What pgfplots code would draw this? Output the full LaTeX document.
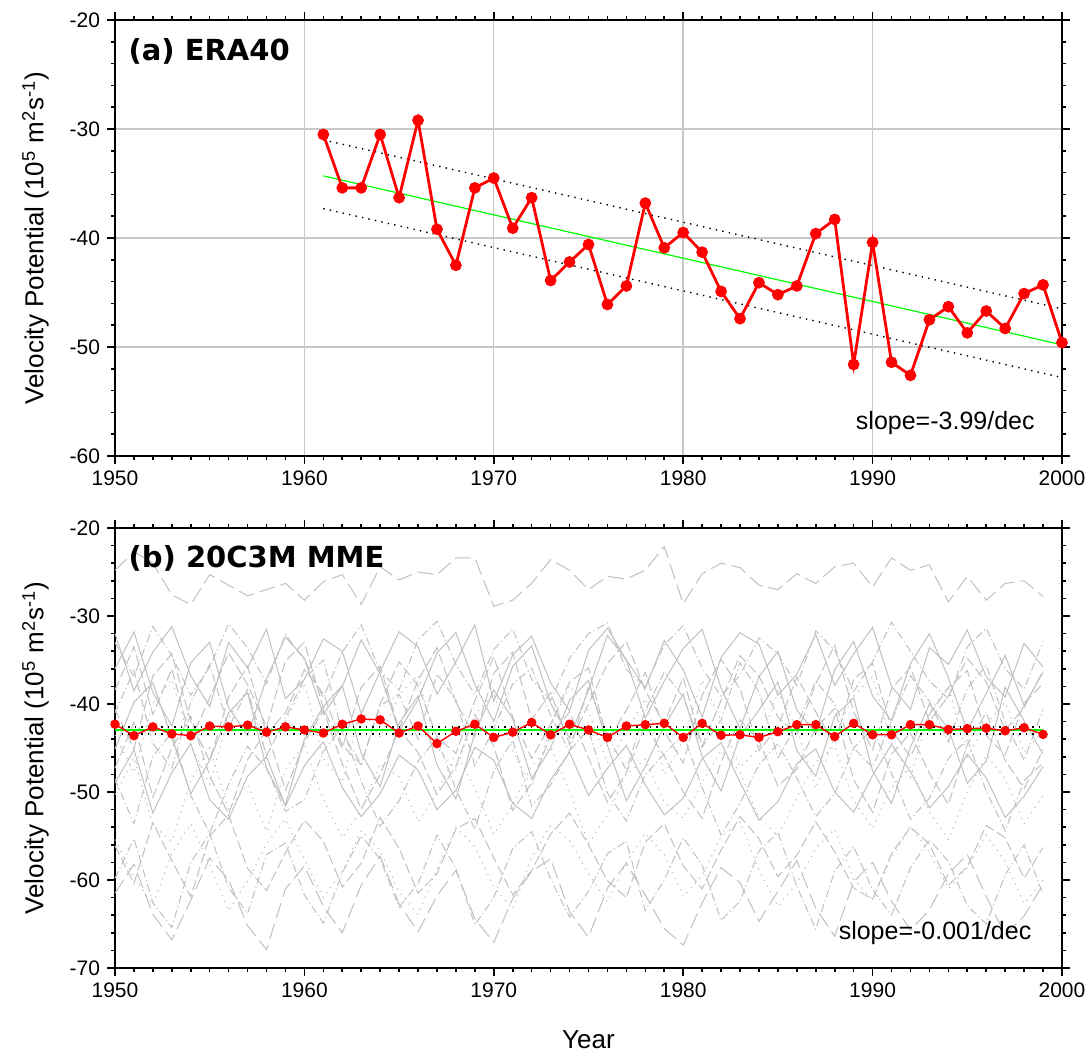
\documentclass[border=0pt]{standalone}
\usepackage{fontspec}
\setmainfont{Liberation Sans}
\newfontfamily\titlefont{DejaVu Sans}
\usepackage{pgfplots}
\pgfplotsset{compat=1.18}

\definecolor{gridgray}{RGB}{200,200,200}
\definecolor{mgray}{RGB}{192,192,192}
\definecolor{lgreen}{RGB}{0,255,0}

\pgfplotsset{
  panel/.style={
    scale only axis, width=473.5pt,
    xmin=1950, xmax=2000,
    xtick={1950,1960,...,2000},
    xticklabels={1950,1960,1970,1980,1990,2000},
    minor x tick num=9, minor y tick num=4,
    tick align=outside,
    major tick length=4pt, minor tick length=2pt,
    tick style={black, line width=0.8pt},
    axis line style={line width=1.4pt},
    tick label style={font=\fontsize{10.5}{12}\selectfont},
    ylabel={Velocity Potential (10\textsuperscript{5} m\textsuperscript{2}s\textsuperscript{-1})},
    ylabel style={font=\fontsize{13}{15}\selectfont,
      at={(axis description cs:-0.084,0.5)}, anchor=center},
    clip=false,
  },
  gsolid/.style={mgray, line width=0.5pt, solid},
  gdash/.style={mgray, line width=0.5pt, dash pattern=on 5pt off 2pt},
  glong/.style={mgray, line width=0.5pt, dash pattern=on 8pt off 3pt},
  gdot/.style={mgray, line width=0.6pt, dash pattern=on 0.6pt off 2.6pt},
  gdd/.style={mgray, line width=0.5pt, dash pattern=on 4pt off 1.5pt on 0.6pt off 1.5pt},
  conf/.style={black, line width=0.7pt, dash pattern=on 0.7pt off 2.6pt},
}

% one model series, one value per year from 1950
\newcommand{\model}[2]{\addplot[#1] table[header=false, x expr=\coordindex+1950, y index=0, row sep=\\]{#2};}

\begin{document}
\begin{tikzpicture}

% ---------------- (a) ERA40 ----------------
\begin{axis}[panel, at={(0,0)}, anchor=north west, height=218pt,
  ymin=-60, ymax=-20,
  ytick={-60,-50,...,-20}, yticklabels={-60,-50,-40,-30,-20},
  grid=major, grid style={gridgray, line width=0.7pt}]

\addplot[conf] coordinates {(1961,-31.0) (2000,-46.5)};
\addplot[conf] coordinates {(1961,-37.3) (2000,-52.8)};
\addplot[lgreen, line width=0.6pt] coordinates {(1961,-34.3) (2000,-49.8)};

\addplot[red, line width=1.4pt, mark=*, mark size=2.2pt] coordinates {
  (1961,-30.5) (1962,-35.4) (1963,-35.4) (1964,-30.5) (1965,-36.3)
  (1966,-29.2) (1967,-39.2) (1968,-42.5) (1969,-35.4) (1970,-34.5)
  (1971,-39.1) (1972,-36.3) (1973,-43.9) (1974,-42.2) (1975,-40.6)
  (1976,-46.1) (1977,-44.4) (1978,-36.8) (1979,-40.9) (1980,-39.5)
  (1981,-41.3) (1982,-44.9) (1983,-47.4) (1984,-44.1) (1985,-45.2)
  (1986,-44.4) (1987,-39.6) (1988,-38.3) (1989,-51.6) (1990,-40.4)
  (1991,-51.4) (1992,-52.6) (1993,-47.5) (1994,-46.3) (1995,-48.7)
  (1996,-46.7) (1997,-48.3) (1998,-45.1) (1999,-44.3) (2000,-49.6)};

\node[anchor=west, inner sep=0pt, font=\titlefont\bfseries\fontsize{14.5}{16}\selectfont]
  at (rel axis cs:0.014,0.927) {(a) ERA40};
\node[anchor=east, inner sep=0pt, font=\fontsize{12.5}{14}\selectfont]
  at (rel axis cs:0.9715,0.076) {slope=-3.99/dec};
\end{axis}

% ---------------- (b) 20C3M MME ----------------
\begin{axis}[panel, at={(0,-254pt)}, anchor=north west, height=220pt,
  ymin=-70, ymax=-20,
  ytick={-70,-60,...,-20}, yticklabels={-70,-60,-50,-40,-30,-20},
  xlabel={Year},
  xlabel style={font=\fontsize{13}{15}\selectfont,
    at={(axis description cs:0.5,0)}, anchor=center, yshift=-36pt}]

\model{glong}{-24.8\\-22.7\\-24.0\\-27.6\\-28.7\\-25.3\\-26.5\\-27.7\\-27.0\\-26.3\\
-28.2\\-26.1\\-25.3\\-28.7\\-24.4\\-25.9\\-25.0\\-25.3\\-23.4\\-23.4\\
-28.9\\-28.2\\-26.3\\-23.6\\-24.8\\-27.0\\-25.5\\-25.8\\-24.8\\-22.1\\
-28.6\\-25.2\\-24.0\\-24.5\\-26.5\\-27.0\\-25.2\\-26.3\\-24.4\\-24.0\\
-26.7\\-23.4\\-24.8\\-24.2\\-28.4\\-25.5\\-28.2\\-26.3\\-26.0\\-27.8\\}

\model{gsolid}{-32.0\\-38.5\\-34.1\\-31.2\\-36.8\\-40.3\\-33.0\\-35.9\\-31.5\\-39.4\\
-37.2\\-32.6\\-34.0\\-41.1\\-36.3\\-31.8\\-33.5\\-38.9\\-35.2\\-31.0\\
-39.7\\-34.4\\-32.3\\-37.6\\-40.8\\-33.9\\-31.4\\-35.0\\-38.2\\-32.8\\
-36.1\\-41.5\\-34.7\\-31.9\\-33.2\\-39.0\\-36.6\\-32.1\\-37.9\\-34.3\\
-31.3\\-38.0\\-40.6\\-33.6\\-35.5\\-31.6\\-36.9\\-39.2\\-33.1\\-35.8\\}

\model{gdash}{-38.4\\-33.5\\-41.2\\-36.0\\-44.1\\-39.3\\-34.2\\-37.8\\-42.6\\-35.1\\
-33.0\\-40.5\\-45.0\\-38.1\\-35.7\\-42.9\\-37.3\\-33.6\\-39.8\\-43.7\\
-36.5\\-34.1\\-41.8\\-38.7\\-44.6\\-40.0\\-35.4\\-32.9\\-38.5\\-42.2\\
-37.0\\-44.8\\-39.6\\-34.5\\-36.8\\-41.5\\-43.4\\-37.7\\-33.3\\-40.9\\
-45.2\\-38.3\\-35.8\\-42.0\\-39.1\\-34.8\\-37.5\\-43.0\\-40.4\\-36.2\\}

\model{gdd}{-41.0\\-36.2\\-44.5\\-47.3\\-39.8\\-35.5\\-42.7\\-38.4\\-45.9\\-41.6\\
-37.1\\-35.0\\-43.3\\-46.8\\-40.2\\-38.9\\-44.0\\-36.6\\-39.5\\-47.0\\
-42.8\\-37.7\\-35.9\\-41.3\\-45.4\\-38.0\\-43.6\\-47.5\\-40.7\\-36.4\\
-39.2\\-44.9\\-41.8\\-35.3\\-38.6\\-46.1\\-42.4\\-37.4\\-40.0\\-45.0\\
-47.2\\-41.9\\-36.8\\-39.7\\-44.3\\-38.2\\-35.6\\-42.1\\-46.4\\-40.6\\}

\model{gdot}{-43.5\\-47.8\\-39.9\\-37.2\\-44.6\\-49.1\\-41.5\\-38.3\\-45.8\\-42.0\\
-37.6\\-46.2\\-48.9\\-40.4\\-43.8\\-39.0\\-36.7\\-44.9\\-47.5\\-41.2\\
-38.8\\-45.3\\-49.4\\-42.6\\-37.9\\-40.8\\-46.7\\-43.2\\-39.4\\-48.0\\
-44.1\\-37.3\\-41.9\\-47.2\\-45.0\\-38.6\\-42.8\\-49.6\\-43.6\\-39.1\\
-36.9\\-44.4\\-48.3\\-41.0\\-38.0\\-46.0\\-42.3\\-39.8\\-45.5\\-43.0\\}

\model{gsolid}{-45.1\\-39.8\\-37.6\\-43.9\\-50.2\\-46.4\\-41.0\\-38.7\\-47.3\\-51.5\\
-44.0\\-40.3\\-37.9\\-45.6\\-49.4\\-42.2\\-39.1\\-46.9\\-50.8\\-43.3\\
-38.4\\-41.7\\-48.5\\-45.0\\-39.6\\-37.3\\-44.7\\-51.0\\-47.1\\-42.5\\
-38.9\\-46.0\\-49.9\\-43.6\\-40.7\\-37.5\\-45.3\\-48.2\\-41.4\\-39.3\\
-47.6\\-51.3\\-44.9\\-40.0\\-42.8\\-49.0\\-46.5\\-38.1\\-41.9\\-45.7\\}

\model{gdash}{-47.3\\-42.1\\-50.6\\-45.0\\-41.4\\-48.2\\-52.5\\-46.3\\-43.0\\-49.8\\
-44.4\\-40.7\\-46.8\\-51.9\\-48.0\\-42.9\\-45.5\\-50.3\\-47.1\\-41.2\\
-44.8\\-52.1\\-49.0\\-43.6\\-40.9\\-46.1\\-51.2\\-47.8\\-42.4\\-45.9\\
-50.0\\-53.0\\-46.6\\-41.8\\-44.2\\-49.3\\-47.4\\-42.7\\-40.5\\-48.6\\
-52.3\\-45.7\\-43.3\\-47.9\\-51.4\\-44.6\\-41.0\\-46.4\\-49.6\\-45.2\\}

\model{gdd}{-48.5\\-53.6\\-46.0\\-43.2\\-50.4\\-54.7\\-49.1\\-44.8\\-47.3\\-52.2\\
-50.9\\-45.4\\-42.6\\-48.8\\-53.9\\-51.0\\-46.5\\-43.9\\-49.7\\-54.2\\
-47.6\\-44.1\\-51.6\\-49.2\\-45.3\\-42.9\\-50.1\\-53.3\\-48.0\\-45.7\\
-43.4\\-49.5\\-54.9\\-51.3\\-46.9\\-44.5\\-48.4\\-52.8\\-50.2\\-45.0\\
-42.8\\-47.9\\-53.1\\-50.7\\-46.2\\-44.0\\-49.9\\-54.4\\-48.7\\-46.7\\}

\model{gdot}{-50.3\\-46.1\\-53.8\\-55.6\\-48.7\\-45.0\\-51.9\\-49.2\\-54.5\\-47.4\\
-44.6\\-50.8\\-55.2\\-52.0\\-46.8\\-48.3\\-53.4\\-50.1\\-45.5\\-49.6\\
-54.8\\-51.5\\-47.0\\-44.9\\-49.9\\-55.9\\-52.6\\-48.0\\-46.3\\-51.2\\
-53.0\\-49.0\\-45.3\\-47.7\\-52.9\\-55.0\\-50.6\\-46.6\\-44.8\\-51.0\\
-54.1\\-49.5\\-47.1\\-52.3\\-55.4\\-50.0\\-45.8\\-48.5\\-53.6\\-50.4\\}

\model{gsolid}{-49.0\\-45.2\\-52.4\\-47.8\\-44.5\\-50.9\\-53.1\\-48.2\\-46.0\\-51.6\\
-47.0\\-44.3\\-49.5\\-52.8\\-50.2\\-45.8\\-47.5\\-52.0\\-49.8\\-44.9\\
-46.4\\-51.3\\-53.0\\-48.6\\-45.5\\-50.4\\-47.3\\-44.7\\-49.2\\-52.6\\
-50.7\\-46.2\\-44.4\\-48.9\\-53.2\\-51.1\\-46.8\\-45.1\\-50.0\\-52.3\\
-48.1\\-44.6\\-47.7\\-51.8\\-49.4\\-45.7\\-48.4\\-52.9\\-50.5\\-47.1\\}

\model{gsolid}{-36.0\\-31.8\\-38.7\\-42.5\\-35.3\\-33.0\\-40.4\\-43.6\\-37.1\\-32.4\\
-34.8\\-41.2\\-38.0\\-32.7\\-36.6\\-43.1\\-39.5\\-34.2\\-31.9\\-37.8\\
-42.0\\-35.7\\-33.4\\-39.9\\-43.9\\-38.4\\-32.2\\-35.0\\-41.6\\-37.4\\
-33.7\\-31.5\\-38.2\\-42.8\\-36.9\\-34.0\\-40.7\\-43.3\\-36.1\\-32.9\\
-39.1\\-41.9\\-35.4\\-32.0\\-37.0\\-43.0\\-38.8\\-34.5\\-40.2\\-36.4\\}

\model{gdd}{-33.0\\-36.9\\-31.2\\-34.5\\-39.0\\-35.8\\-30.9\\-33.6\\-37.7\\-32.1\\
-35.0\\-39.3\\-34.1\\-31.0\\-36.3\\-38.4\\-32.7\\-30.6\\-35.5\\-38.9\\
-33.8\\-31.5\\-37.2\\-39.6\\-34.8\\-32.0\\-30.8\\-36.1\\-38.0\\-33.3\\
-31.1\\-35.9\\-39.1\\-36.7\\-32.5\\-34.3\\-37.9\\-31.7\\-33.9\\-38.6\\
-35.2\\-30.7\\-34.0\\-37.4\\-39.4\\-33.5\\-31.4\\-36.0\\-38.3\\-32.9\\}

\model{gdash}{-40.6\\-45.1\\-36.8\\-34.3\\-42.0\\-46.5\\-39.2\\-35.7\\-43.4\\-41.0\\
-36.1\\-38.8\\-44.7\\-46.9\\-40.0\\-35.2\\-37.9\\-43.8\\-45.6\\-39.6\\
-34.6\\-41.5\\-46.2\\-42.3\\-37.5\\-35.9\\-44.2\\-40.7\\-36.4\\-43.1\\
-46.7\\-39.0\\-34.9\\-38.3\\-45.3\\-42.6\\-36.9\\-40.9\\-44.5\\-37.2\\
-35.4\\-42.9\\-46.0\\-41.2\\-38.1\\-36.2\\-43.6\\-45.8\\-39.9\\-37.7\\}

\model{gdash}{-56.1\\-60.4\\-53.5\\-57.8\\-61.9\\-55.0\\-52.6\\-58.7\\-61.2\\-56.9\\
-53.2\\-55.6\\-60.8\\-58.1\\-52.9\\-56.4\\-61.5\\-59.3\\-54.2\\-53.0\\
-57.5\\-61.7\\-58.9\\-54.8\\-52.4\\-56.0\\-60.1\\-62.0\\-55.7\\-53.6\\
-58.4\\-61.0\\-56.6\\-52.8\\-55.3\\-59.6\\-57.2\\-53.4\\-56.8\\-60.9\\
-62.2\\-57.0\\-54.0\\-55.9\\-60.6\\-58.5\\-53.8\\-55.2\\-59.8\\-56.3\\}

\model{gdd}{-59.8\\-55.3\\-62.6\\-65.4\\-58.0\\-54.7\\-60.9\\-63.8\\-57.1\\-55.8\\
-61.7\\-64.9\\-59.2\\-55.0\\-57.6\\-63.1\\-60.4\\-54.9\\-58.7\\-65.1\\
-62.0\\-56.4\\-54.5\\-59.9\\-64.2\\-61.3\\-57.0\\-55.6\\-63.5\\-60.0\\
-55.2\\-58.3\\-64.6\\-62.4\\-56.7\\-54.6\\-60.7\\-65.6\\-59.0\\-56.2\\
-61.1\\-64.0\\-58.6\\-55.4\\-57.9\\-62.9\\-65.0\\-59.4\\-56.0\\-61.6\\}

\model{glong}{-61.5\\-58.2\\-63.9\\-66.8\\-62.3\\-57.5\\-60.0\\-65.2\\-67.9\\-61.0\\
-58.4\\-63.0\\-66.0\\-60.6\\-57.3\\-62.7\\-65.9\\-61.8\\-58.9\\-64.4\\
-67.1\\-62.1\\-59.0\\-57.6\\-63.6\\-66.5\\-60.9\\-58.1\\-61.7\\-65.5\\
-67.4\\-62.6\\-58.6\\-60.3\\-64.7\\-61.3\\-57.8\\-63.2\\-66.4\\-60.2\\
-58.0\\-62.4\\-65.7\\-63.4\\-59.3\\-57.1\\-61.9\\-66.2\\-64.1\\-60.5\\}

\model{gdot}{-55.4\\-59.7\\-62.8\\-57.0\\-53.6\\-58.3\\-63.5\\-60.1\\-55.9\\-53.1\\
-57.7\\-62.0\\-59.0\\-54.4\\-56.6\\-61.4\\-63.9\\-58.7\\-54.0\\-56.2\\
-60.8\\-63.3\\-57.4\\-53.8\\-55.5\\-59.3\\-62.5\\-58.0\\-54.7\\-57.1\\
-61.9\\-59.5\\-55.1\\-53.4\\-58.9\\-63.0\\-60.4\\-56.4\\-54.2\\-59.9\\
-62.2\\-57.5\\-53.9\\-56.8\\-61.0\\-58.6\\-54.9\\-57.9\\-62.7\\-60.0\\}

% multi-model mean, its trend and bounds
\addplot[conf] coordinates {(1950,-42.6) (1999,-42.6)};
\addplot[conf] coordinates {(1950,-43.4) (1999,-43.4)};
\addplot[lgreen, line width=1.1pt] coordinates {(1950,-43.0) (1999,-43.0)};

\model{red, line width=0.7pt, mark=*, mark size=2pt}{-42.3\\-43.6\\-42.6\\-43.4\\-43.6\\-42.5\\-42.6\\-42.4\\-43.2\\-42.6\\
-42.95\\-43.3\\-42.3\\-41.7\\-41.8\\-43.3\\-42.5\\-44.5\\-43.1\\-42.3\\
-43.8\\-43.2\\-42.1\\-43.5\\-42.3\\-42.95\\-43.8\\-42.5\\-42.35\\-42.2\\
-43.8\\-42.2\\-43.55\\-43.5\\-43.8\\-43.15\\-42.35\\-42.35\\-43.7\\-42.2\\
-43.5\\-43.5\\-42.35\\-42.35\\-42.9\\-42.8\\-42.75\\-43.05\\-42.7\\-43.45\\}

\node[anchor=west, inner sep=0pt, font=\titlefont\bfseries\fontsize{14.5}{16}\selectfont]
  at (rel axis cs:0.014,0.932) {(b) 20C3M MME};
\node[anchor=east, inner sep=0pt, font=\fontsize{12.5}{14}\selectfont]
  at (rel axis cs:0.968,0.08) {slope=-0.001/dec};
\end{axis}

\pgfresetboundingbox
\path (-57.5pt,10pt) rectangle (487pt,-522pt);
\end{tikzpicture}
\end{document}
